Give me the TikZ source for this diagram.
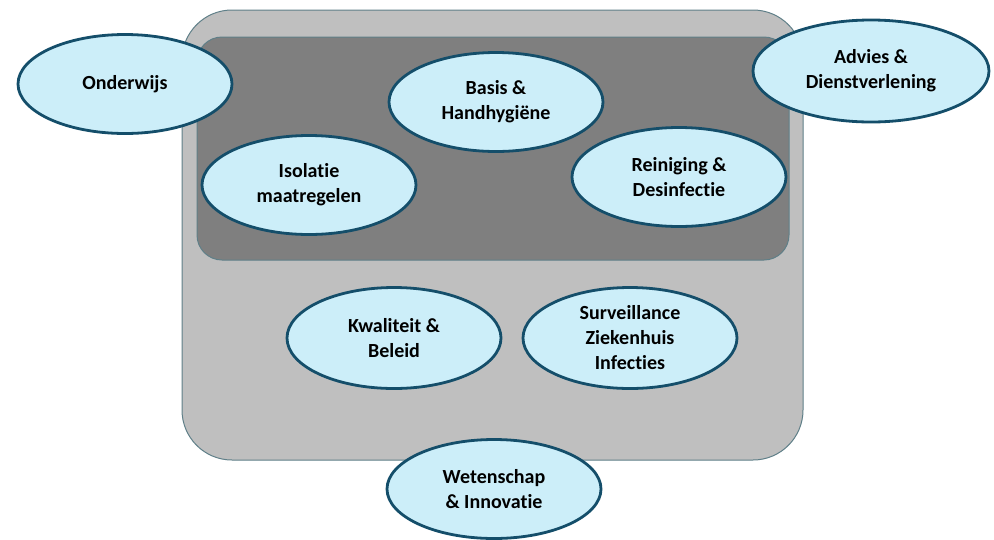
\documentclass[tikz,border=0pt]{standalone}
\usepackage{fontspec}
\setmainfont[Ligatures=NoCommon]{Carlito}
\usetikzlibrary{shapes.geometric}
\definecolor{ellfill}{HTML}{CCEEF9}
\definecolor{elldraw}{HTML}{144E6A}
\definecolor{outerfill}{HTML}{BFBFBF}
\definecolor{innerfill}{HTML}{7F7F7F}
\definecolor{boxdraw}{HTML}{5F7F88}
\tikzset{
  topic/.style={ellipse, draw=elldraw, fill=ellfill, line width=2.8pt,
    minimum width=214pt, minimum height=99pt, inner sep=0pt,
    align=center, font=\fontsize{20}{25}\selectfont\bfseries, text=black},
}
\begin{document}
\begin{tikzpicture}[x=1pt,y=-1pt]
\useasboundingbox (0,0) rectangle (994,539);
\draw[fill=outerfill, draw=boxdraw, line width=1pt, rounded corners=50pt] (182,10) rectangle (803,460);
\draw[fill=innerfill, draw=boxdraw, line width=1pt, rounded corners=25pt] (197,37) rectangle (789,260);
\node[topic] (onderwijs) at (125,84) {Onderwijs};
\node[topic, minimum width=236pt, minimum height=102pt] (advies) at (871,71) {Advies \&\\Dienstverlening};
\node[topic] (basis) at (496,102) {Basis \&\\Handhygiëne};
\node[topic] (isolatie) at (309,185) {Isolatie\\maatregelen};
\node[topic] (reiniging) at (679,177) {Reiniging \&\\Desinfectie};
\node[topic, minimum height=101pt] (kwaliteit) at (394,338) {Kwaliteit \&\\Beleid};
\node[topic, minimum height=101pt] (surveillance) at (630,338) {Surveillance\\Ziekenhuis\\Infecties};
\node[topic] (wetenschap) at (494,489) {Wetenschap\\\& Innovatie};
\end{tikzpicture}
\end{document}
